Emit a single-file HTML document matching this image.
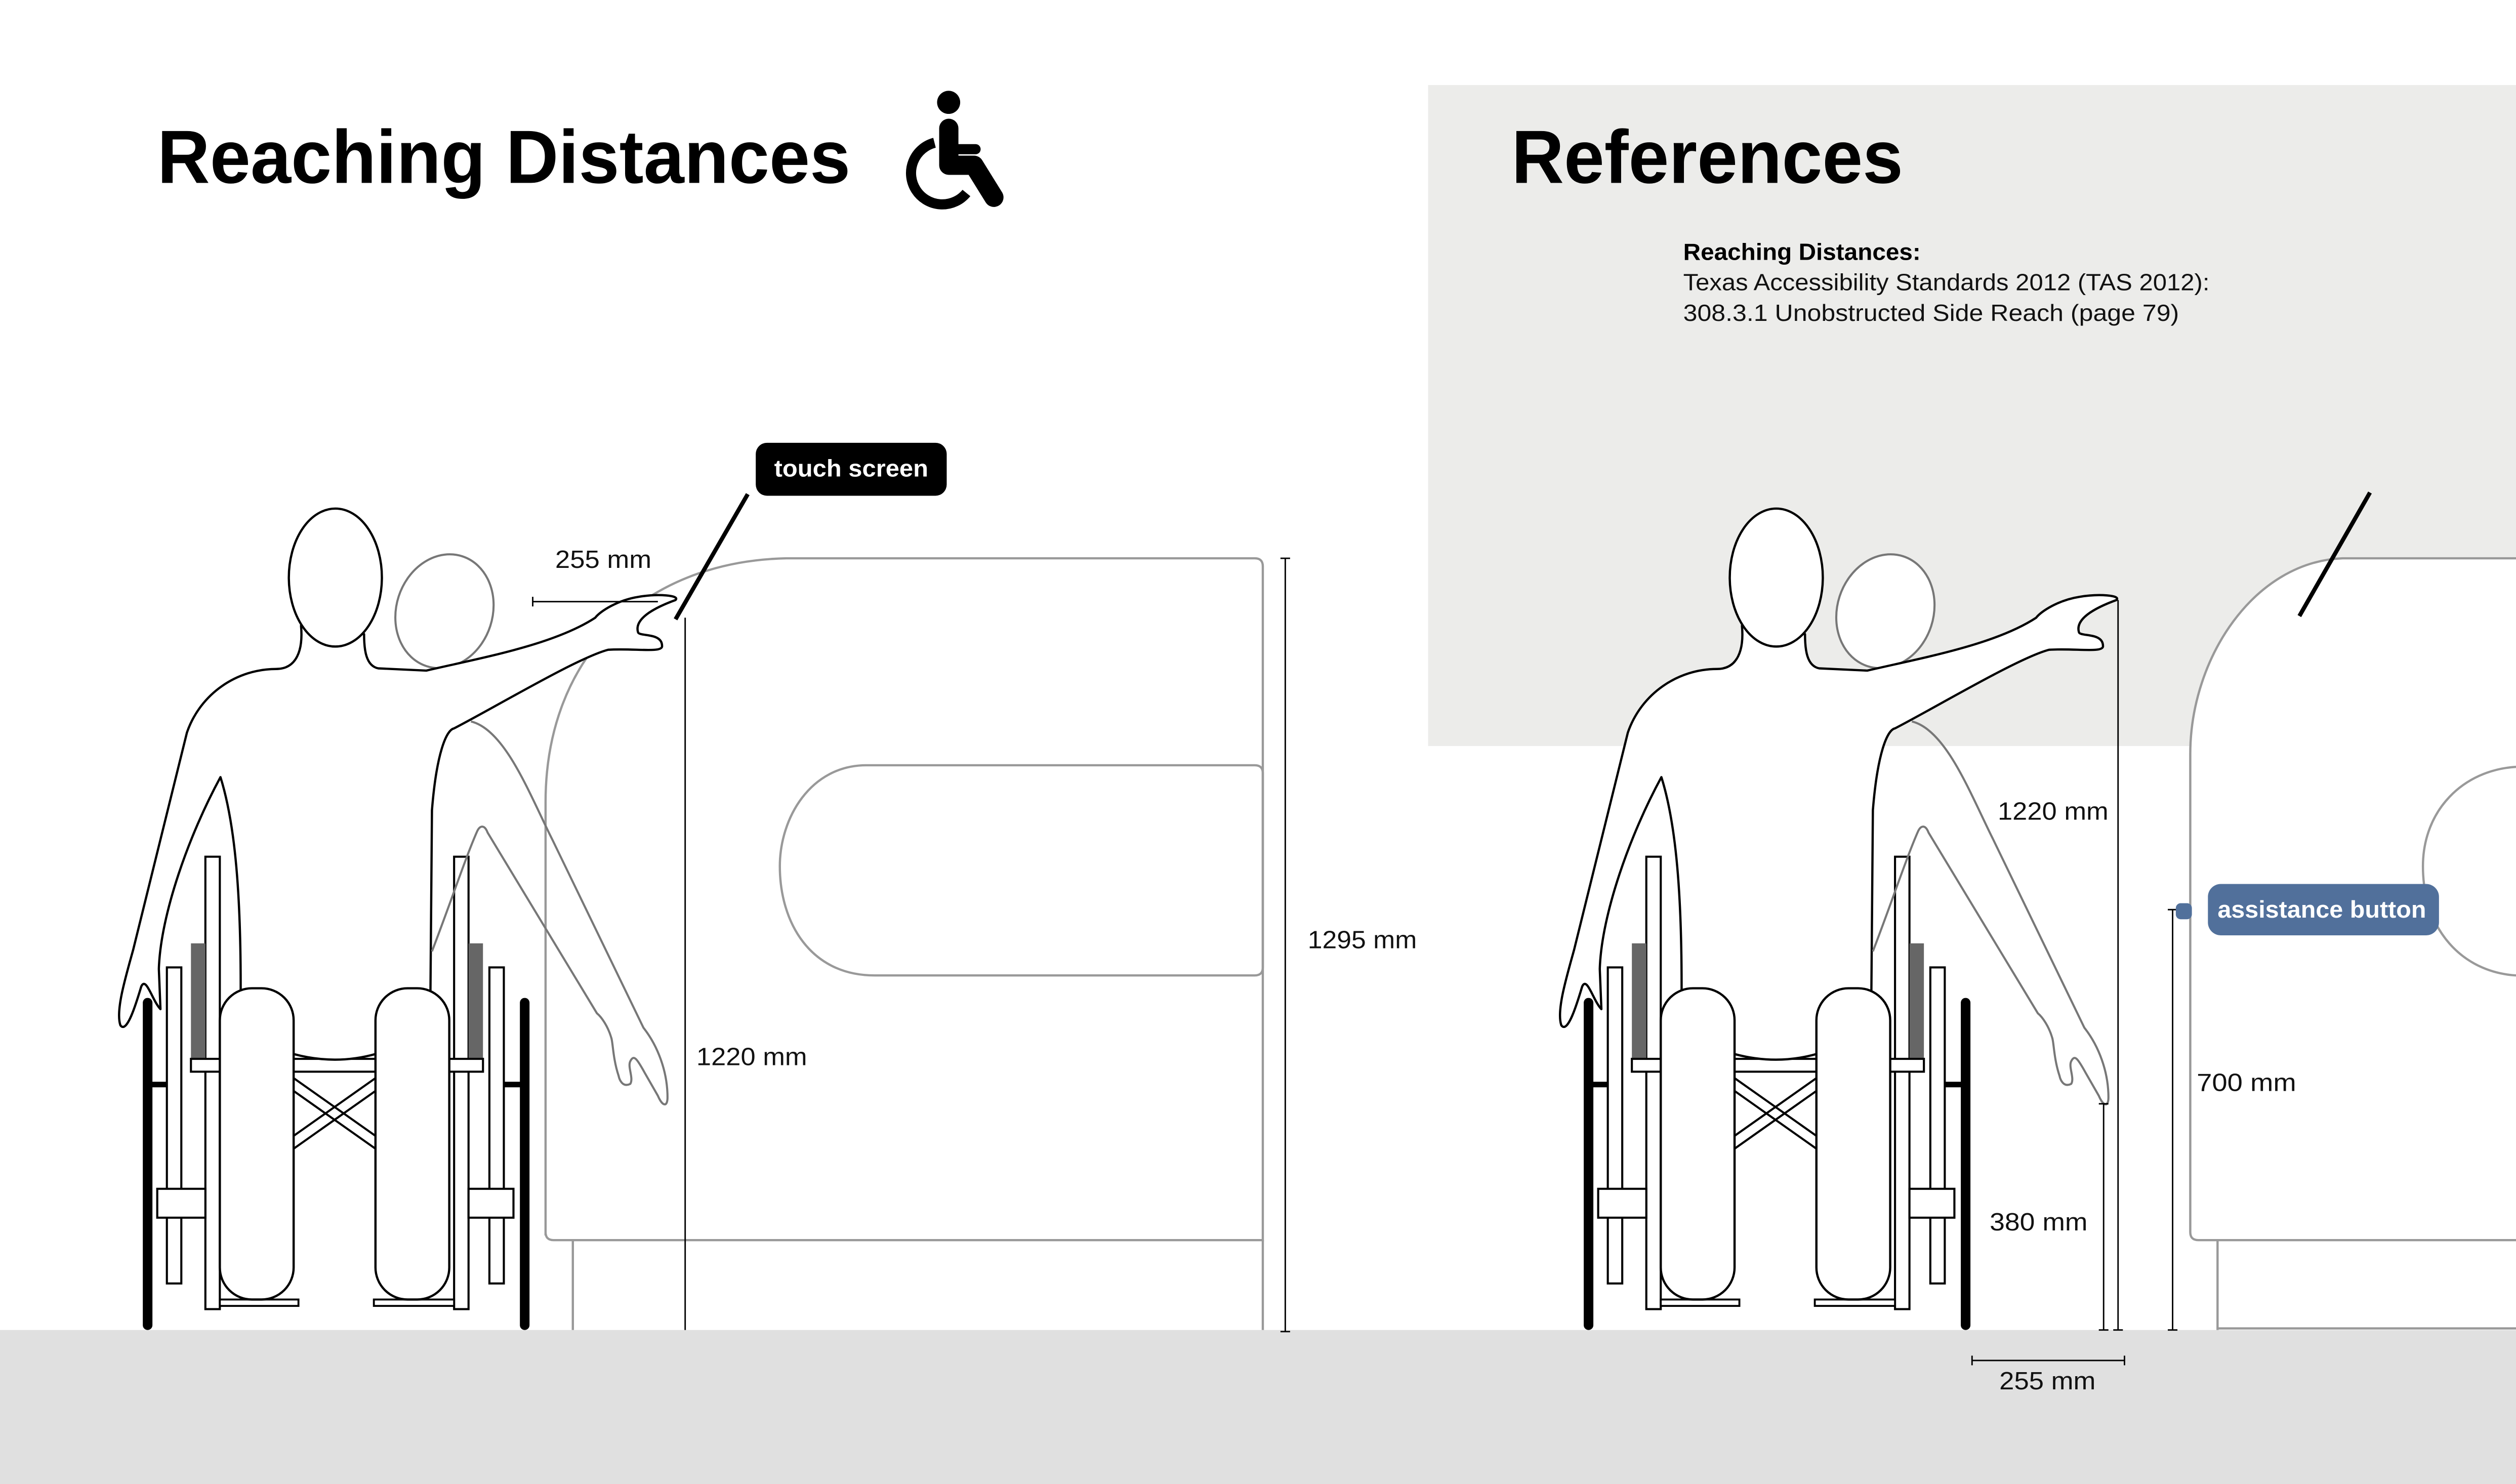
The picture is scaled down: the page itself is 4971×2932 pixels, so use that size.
<!DOCTYPE html>
<html><head><meta charset="utf-8"><style>
html,body{margin:0;padding:0;background:#fff;}
svg{display:block;}
text{font-family:"Liberation Sans",sans-serif;}
</style></head><body>
<svg width="4971" height="2932" viewBox="0 0 1568 925" preserveAspectRatio="none" xmlns="http://www.w3.org/2000/svg">
<defs>
<g id="fig">
  <ellipse cx="277" cy="381" rx="30" ry="36" transform="rotate(18 277 381)" fill="#fff" stroke="#777" stroke-width="1.3"/>
  <rect x="128" y="534" width="9" height="282" fill="#fff" stroke="#000" stroke-width="1.3"/>
  <rect x="283" y="534" width="9" height="282" fill="#fff" stroke="#000" stroke-width="1.3"/>
  <rect x="119" y="588" width="9" height="72" fill="#666"/>
  <rect x="292" y="588" width="9" height="72" fill="#666"/>
  <rect x="104" y="603" width="9" height="197" fill="#fff" stroke="#000" stroke-width="1.3"/>
  <rect x="305" y="603" width="9" height="197" fill="#fff" stroke="#000" stroke-width="1.3"/>
  <line x1="92" y1="625" x2="92" y2="826" stroke="#000" stroke-width="6" stroke-linecap="round"/>
  <line x1="327" y1="625" x2="327" y2="826" stroke="#000" stroke-width="6" stroke-linecap="round"/>
  <line x1="92" y1="676" x2="104" y2="676" stroke="#000" stroke-width="3.5"/>
  <line x1="314" y1="676" x2="327" y2="676" stroke="#000" stroke-width="3.5"/>
  <rect x="98" y="741" width="30" height="18" fill="#fff" stroke="#000" stroke-width="1.3"/>
  <rect x="292" y="741" width="28" height="18" fill="#fff" stroke="#000" stroke-width="1.3"/>
  <rect x="119" y="660" width="182" height="8" fill="#fff" stroke="#000" stroke-width="1.3"/>
  <path d="M183,672 L234,708 M183,680 L234,716 M234,672 L183,708 M234,680 L183,716" stroke="#000" stroke-width="1.3" fill="none"/>
  <rect x="137" y="810" width="49" height="4" fill="#fff" stroke="#000" stroke-width="1.2"/>
  <rect x="233" y="810" width="50" height="4" fill="#fff" stroke="#000" stroke-width="1.2"/>
  <path d="M187.6,390 C189,405 185,417 172,417 C148,417 125,432 116.5,456.6 L83,592 C78,610 72,630 75,639 C79,645 85,625 88,615 C91,608 95,624 100,629 L99,604 C100,570 118,520 137.4,484.4 C147,515 150,560 150,615 L150,650 L183,657 Q209,664 234,657 L268,650 L269.2,505 C272,470 278,455 283,454 C310,440 360,410 379,405 C395,404 412,407 412.6,403 C413,394 398,397 397.6,394 C395,385 410,378 421,374 C424,371 410,370 398,372 C385,374 374,381 371,385 C345,402 300,410 265.7,418 L235.7,416.6 C228,415 226.9,405 226.9,395.3 Z" fill="#fff" stroke="#000" stroke-width="1.4" stroke-linejoin="round"/>
  <ellipse cx="209" cy="360" rx="29" ry="43" fill="#fff" stroke="#000" stroke-width="1.4"/>
  <path d="M293.5,449.7 C315,455 330,495 344.4,523.7 L401,640.6 C410,652 416,668 416,684 C416,690 413,690 410,683 L401.8,668.7 C397,660 395,657 392.8,661.5 C391,665 395,672 392.8,675.6 C388,678 386,673 385.5,670.5 C382,660 382,650 381,647 C379,640 375,634 372,631.6 L303.9,519 C302,514 299,514 297,519 C290,535 280,565 269.2,593" fill="none" stroke="#777" stroke-width="1.3"/>
  <rect x="137" y="616" width="46" height="194" rx="20" fill="#fff" stroke="#000" stroke-width="1.4"/>
  <rect x="234" y="616" width="46" height="194" rx="20" fill="#fff" stroke="#000" stroke-width="1.4"/>
</g>
</defs>

<rect x="890" y="53" width="678" height="412" fill="#ececea"/>
<rect x="0" y="829" width="1568" height="96" fill="#e0e0e0"/>

<text x="98" y="114" font-size="47" font-weight="bold" textLength="432" lengthAdjust="spacingAndGlyphs" fill="#000">Reaching Distances</text>
<text x="942" y="114" font-size="47" font-weight="bold" textLength="244" lengthAdjust="spacingAndGlyphs" fill="#000">References</text>

<circle cx="591.2" cy="63.8" r="7.2" fill="#000"/>
<path d="M591.3,80 L591.3,103 L607,103 L619.4,123" fill="none" stroke="#000" stroke-width="12" stroke-linecap="round" stroke-linejoin="round"/>
<line x1="596" y1="93" x2="608" y2="93" stroke="#000" stroke-width="6.3" stroke-linecap="round"/>
<path d="M582.4,89 A19.5,19.5 0 1 0 602.3,120.3" fill="none" stroke="#000" stroke-width="6.3"/>

<text x="1049" y="162" font-size="14.5" font-weight="bold" fill="#000" textLength="148" lengthAdjust="spacingAndGlyphs">Reaching Distances:</text>
<text x="1049" y="181" font-size="14.5" fill="#111" textLength="328" lengthAdjust="spacingAndGlyphs">Texas Accessibility Standards 2012 (TAS 2012):</text>
<text x="1049" y="200" font-size="14.5" fill="#111" textLength="309" lengthAdjust="spacingAndGlyphs">308.3.1 Unobstructed Side Reach (page 79)</text>

<path d="M340,770 L340,500 C340,410 400,350 490,348 L782,348 Q787,348 787,353 L787,773 L345,773 Q340,773 340,768" fill="#fff" stroke="#999" stroke-width="1.4"/>
<path d="M782,477 L540,477 C505,477 486,510 486,540 C486,575 505,608 545,608 L782,608 Q787,608 787,603 L787,482 Q787,477 782,477 Z" fill="none" stroke="#999" stroke-width="1.4"/>
<line x1="357" y1="773" x2="357" y2="829" stroke="#999" stroke-width="1.4"/>
<line x1="787" y1="773" x2="787" y2="829" stroke="#999" stroke-width="1.4"/>

<use href="#fig"/>

<line x1="427" y1="385" x2="427" y2="829" stroke="#000" stroke-width="0.9"/>
<text x="434" y="664" font-size="15.5" fill="#111" textLength="69" lengthAdjust="spacingAndGlyphs">1220 mm</text>
<line x1="801" y1="348" x2="801" y2="830" stroke="#000" stroke-width="0.9"/>
<line x1="798" y1="348" x2="804" y2="348" stroke="#000" stroke-width="0.9"/>
<line x1="798" y1="830" x2="804" y2="830" stroke="#000" stroke-width="0.9"/>
<text x="815" y="591" font-size="15.5" fill="#111" textLength="68" lengthAdjust="spacingAndGlyphs">1295 mm</text>
<line x1="332" y1="375" x2="410" y2="375" stroke="#000" stroke-width="0.9"/>
<line x1="332" y1="372" x2="332" y2="378" stroke="#000" stroke-width="0.9"/>
<text x="346" y="354" font-size="15.5" fill="#111" textLength="60" lengthAdjust="spacingAndGlyphs">255 mm</text>
<line x1="466" y1="308" x2="421" y2="386" stroke="#000" stroke-width="2.6"/>
<rect x="471" y="276" width="119" height="33" rx="7" fill="#000"/>
<text x="530.5" y="297" font-size="15" font-weight="bold" fill="#fff" text-anchor="middle" textLength="96" lengthAdjust="spacingAndGlyphs">touch screen</text>

<path d="M1568,348 L1460,348 C1405,350 1365,410 1365,470 L1365,768 Q1365,773 1370,773 L1568,773" fill="#fff" stroke="#999" stroke-width="1.4"/>
<path d="M1568,478 C1535,480 1510,505 1510,540 C1510,580 1535,606 1568,608" fill="none" stroke="#999" stroke-width="1.4"/>
<line x1="1382" y1="773" x2="1382" y2="829" stroke="#999" stroke-width="1.4"/>
<line x1="1382" y1="828" x2="1568" y2="828" stroke="#999" stroke-width="1.4"/>

<use href="#fig" transform="translate(898,0)"/>

<line x1="1320" y1="374" x2="1320" y2="829" stroke="#000" stroke-width="0.9"/>
<line x1="1317" y1="829" x2="1323" y2="829" stroke="#000" stroke-width="0.9"/>
<text x="1245" y="511" font-size="15.5" fill="#111" textLength="69" lengthAdjust="spacingAndGlyphs">1220 mm</text>
<line x1="1311" y1="688" x2="1311" y2="829" stroke="#000" stroke-width="0.9"/>
<line x1="1308" y1="688" x2="1314" y2="688" stroke="#000" stroke-width="0.9"/>
<line x1="1308" y1="829" x2="1314" y2="829" stroke="#000" stroke-width="0.9"/>
<text x="1240" y="767" font-size="15.5" fill="#111" textLength="61" lengthAdjust="spacingAndGlyphs">380 mm</text>
<line x1="1354" y1="567" x2="1354" y2="829" stroke="#000" stroke-width="0.9"/>
<line x1="1351" y1="567" x2="1357" y2="567" stroke="#000" stroke-width="0.9"/>
<line x1="1351" y1="829" x2="1357" y2="829" stroke="#000" stroke-width="0.9"/>
<text x="1369" y="680" font-size="15.5" fill="#111" textLength="62" lengthAdjust="spacingAndGlyphs">700 mm</text>
<line x1="1229" y1="848" x2="1324" y2="848" stroke="#000" stroke-width="0.9"/>
<line x1="1229" y1="845" x2="1229" y2="851" stroke="#000" stroke-width="0.9"/>
<line x1="1324" y1="845" x2="1324" y2="851" stroke="#000" stroke-width="0.9"/>
<text x="1246" y="866" font-size="15.5" fill="#111" textLength="60" lengthAdjust="spacingAndGlyphs">255 mm</text>
<line x1="1477" y1="307" x2="1433" y2="384" stroke="#000" stroke-width="2.6"/>
<rect x="1356" y="563" width="10" height="10" rx="3" fill="#51709b"/>
<rect x="1376" y="551" width="144" height="32" rx="8" fill="#51709b"/>
<text x="1447" y="572" font-size="15" font-weight="bold" fill="#fff" text-anchor="middle" textLength="130" lengthAdjust="spacingAndGlyphs">assistance button</text>
</svg>
</body></html>
